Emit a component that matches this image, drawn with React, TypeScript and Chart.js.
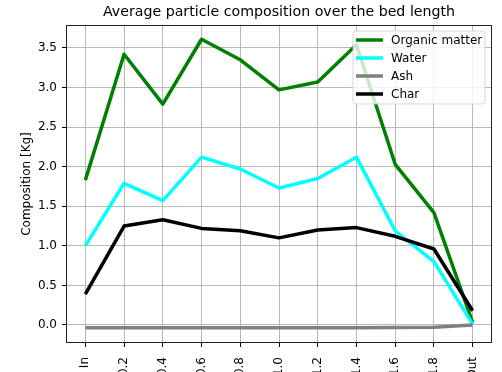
import React, { useEffect, useRef } from "react";
import { Chart, registerables } from "chart.js";

Chart.register(...registerables);

// Positions along the bed (inlet, relative length, outlet)
const positions = ["In", "0.2", "0.4", "0.6", "0.8", "1.0", "1.2", "1.4", "1.6", "1.8", "Out"];

// Average particle composition per position [Kg]
const organicMatter = [1.83, 3.42, 2.79, 3.61, 3.35, 2.97, 3.07, 3.54, 2.03, 1.42, 0.03];
const water = [1.0, 1.79, 1.57, 2.12, 1.97, 1.73, 1.85, 2.12, 1.19, 0.8, 0.01];
const ash = [-0.035, -0.035, -0.035, -0.035, -0.035, -0.035, -0.035, -0.035, -0.033, -0.028, 0.0];
const charMass = [0.39, 1.25, 1.33, 1.22, 1.19, 1.1, 1.2, 1.23, 1.12, 0.96, 0.18];

const seriesNames = ["Organic matter", "Water", "Ash", "Char"];
const seriesColors = ["#008000", "#00ffff", "#808080", "#000000"];

const chartTitle = "Average particle composition over the bed length";

const FONT = "'DejaVu Sans', 'Liberation Sans', sans-serif";

// Title centred over the plot, frame around the plotting area and a boxed legend
const framePlugin = {
  id: "frameAndLegend",
  afterDatasetsDraw(chart: any) {
    const { ctx, chartArea } = chart;
    ctx.save();

    ctx.font = `14.2px ${FONT}`;
    ctx.fillStyle = "#000000";
    ctx.textAlign = "center";
    ctx.textBaseline = "middle";
    ctx.fillText(chartTitle, (chartArea.left + chartArea.right) / 2, chartArea.top - 13);

    ctx.strokeStyle = "#222222";
    ctx.lineWidth = 1;
    ctx.strokeRect(
      Math.round(chartArea.left) + 0.5,
      Math.round(chartArea.top) + 0.5,
      Math.round(chartArea.right - chartArea.left) - 1,
      Math.round(chartArea.bottom - chartArea.top) - 1
    );

    const boxW = 132;
    const boxH = 73;
    const bx = chartArea.right - 7 - boxW;
    const by = chartArea.top + 6;
    const r = 3;
    ctx.beginPath();
    ctx.moveTo(bx + r, by);
    ctx.lineTo(bx + boxW - r, by);
    ctx.arcTo(bx + boxW, by, bx + boxW, by + r, r);
    ctx.lineTo(bx + boxW, by + boxH - r);
    ctx.arcTo(bx + boxW, by + boxH, bx + boxW - r, by + boxH, r);
    ctx.lineTo(bx + r, by + boxH);
    ctx.arcTo(bx, by + boxH, bx, by + boxH - r, r);
    ctx.lineTo(bx, by + r);
    ctx.arcTo(bx, by, bx + r, by, r);
    ctx.closePath();
    ctx.fillStyle = "rgba(255,255,255,0.8)";
    ctx.fill();
    ctx.strokeStyle = "rgba(204,204,204,0.8)";
    ctx.lineWidth = 1;
    ctx.stroke();

    ctx.font = `12px ${FONT}`;
    ctx.textBaseline = "middle";
    ctx.textAlign = "left";
    seriesNames.forEach((name, i) => {
      const y = by + 9 + i * 18;
      ctx.beginPath();
      ctx.strokeStyle = seriesColors[i];
      ctx.lineWidth = 3.5;
      ctx.moveTo(bx + 3, y);
      ctx.lineTo(bx + 30, y);
      ctx.stroke();
      ctx.fillStyle = "#000000";
      ctx.fillText(name, bx + 38, y + 1);
    });
    ctx.restore();
  },
};

export default function App() {
  const canvasRef = useRef<HTMLCanvasElement | null>(null);

  useEffect(() => {
    const canvas = canvasRef.current;
    if (!canvas) return;
    const series = [organicMatter, water, ash, charMass];
    const chart = new Chart(canvas, {
      type: "line",
      data: {
        labels: positions,
        datasets: series.map((values, i) => ({
          label: seriesNames[i],
          data: values,
          borderColor: seriesColors[i],
          backgroundColor: seriesColors[i],
          borderWidth: 3.5,
          pointRadius: 0,
          tension: 0,
          fill: false,
          borderJoinStyle: "round" as const,
          order: series.length - 1 - i,
        })),
      },
      options: {
        responsive: false,
        animation: false,
        devicePixelRatio: 1,
        layout: { padding: { left: 0, right: 10, top: 25, bottom: 0 } },
        plugins: {
          legend: { display: false },
          tooltip: { enabled: false },
          title: { display: false },
        },
        scales: {
          x: {
            type: "category",
            offset: true,
            grid: {
              offset: false,
              color: "#b8b8b8",
              lineWidth: 1,
              tickLength: 4,
              tickColor: "#000000",
            },
            border: { display: false },
            ticks: {
              minRotation: 90,
              maxRotation: 90,
              autoSkip: false,
              padding: 10,
              color: "#000000",
              font: { family: FONT, size: 12 },
            },
            afterFit: (scale: any) => {
              scale.height = 29;
            },
          },
          y: {
            min: -0.228,
            max: 3.79,
            grid: {
              color: "#b8b8b8",
              lineWidth: 1,
              tickLength: 4,
              tickColor: "#000000",
            },
            border: { display: false },
            ticks: {
              stepSize: 0.5,
              includeBounds: false,
              padding: 5,
              color: "#000000",
              font: { family: FONT, size: 12 },
              callback: (v: any) => Number(v).toFixed(1),
            },
            title: {
              display: true,
              text: "Composition [Kg]",
              color: "#000000",
              font: { family: FONT, size: 12 },
              padding: { top: 20, bottom: 0 },
            },
            afterFit: (scale: any) => {
              scale.width = 66;
            },
          },
        },
      },
      plugins: [framePlugin],
    });
    return () => chart.destroy();
  }, []);

  return (
    <div
      style={{
        position: "fixed",
        left: 0,
        top: 0,
        width: 502,
        height: 372,
        overflow: "hidden",
        background: "#ffffff",
      }}
    >
      <canvas ref={canvasRef} width={502} height={372} style={{ display: "block" }} />
    </div>
  );
}
